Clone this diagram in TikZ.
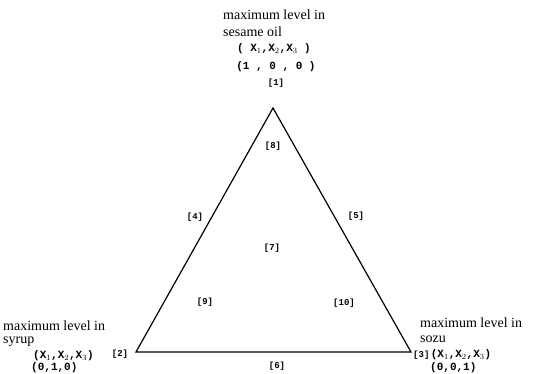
\documentclass[tikz,border=0pt]{standalone}
\usepackage{fontspec}
\setmainfont{Liberation Serif}
\setmonofont{Liberation Mono}
\usepackage{tikz}

\begin{document}
\begin{tikzpicture}[x=1pt,y=-1pt,
    side/.style={line width=1.2pt,line join=miter},
    txt/.style={anchor=west,inner sep=0pt,font=\fontsize{14}{15}\selectfont},
    crd/.style={inner sep=0pt,font=\ttfamily\bfseries\fontsize{11}{13}\selectfont},
    lbl/.style={inner sep=0pt,font=\ttfamily\bfseries\fontsize{9}{10}\selectfont},
  ]
    \useasboundingbox (0,0) rectangle (533,373);

    % Corners
    \coordinate (oil)   at (273,108);
    \coordinate (syrup) at (136,352);
    \coordinate (sozu)  at (411,352);

    % Triangle
    \draw[side] (oil) -- (syrup) -- (sozu) -- cycle;

    % Top corner
    \node[txt] (oilA) at (223,15) {maximum level in};
    \node[txt] (oilB) at (223,32) {sesame oil};
    \node[crd] (oilX) at (274,49) {( X$_1$,X$_2$,X$_3$ )};
    \node[crd] (oilV) at (276,67) {(1 , 0 , 0 )};
    \node[lbl] (p1)   at (276,83) {[1]};

    % Left corner
    \node[txt] (syrA) at (3,326) {maximum level in};
    \node[txt] (syrB) at (3,342) {syrup};
    \node[crd,anchor=west] (syrX) at (33,356) {(X$_1$,X$_2$,X$_3$)};
    \node[crd,anchor=west] (syrV) at (31,368) {(0,1,0)};
    \node[lbl] (p2)   at (120,354) {[2]};

    % Right corner
    \node[txt] (sozA) at (420,323) {maximum level in};
    \node[txt] (sozB) at (420,339) {sozu};
    \node[lbl,anchor=west] (p3) at (413,355) {[3]};
    \node[crd,anchor=west] (sozX) at ([xshift=1pt]p3.east) {(X$_1$,X$_2$,X$_3$)};
    \node[crd,anchor=west] (sozV) at (430,368) {(0,0,1)};

    % Regions
    \node[lbl] (p4)  at (195,217) {[4]};
    \node[lbl] (p5)  at (356,216) {[5]};
    \node[lbl] (p6)  at (277,366) {[6]};
    \node[lbl] (p7)  at (272,248) {[7]};
    \node[lbl] (p8)  at (273,146) {[8]};
    \node[lbl] (p9)  at (205,302) {[9]};
    \node[lbl] (p10) at (344,303) {[10]};

\end{tikzpicture}
\end{document}
